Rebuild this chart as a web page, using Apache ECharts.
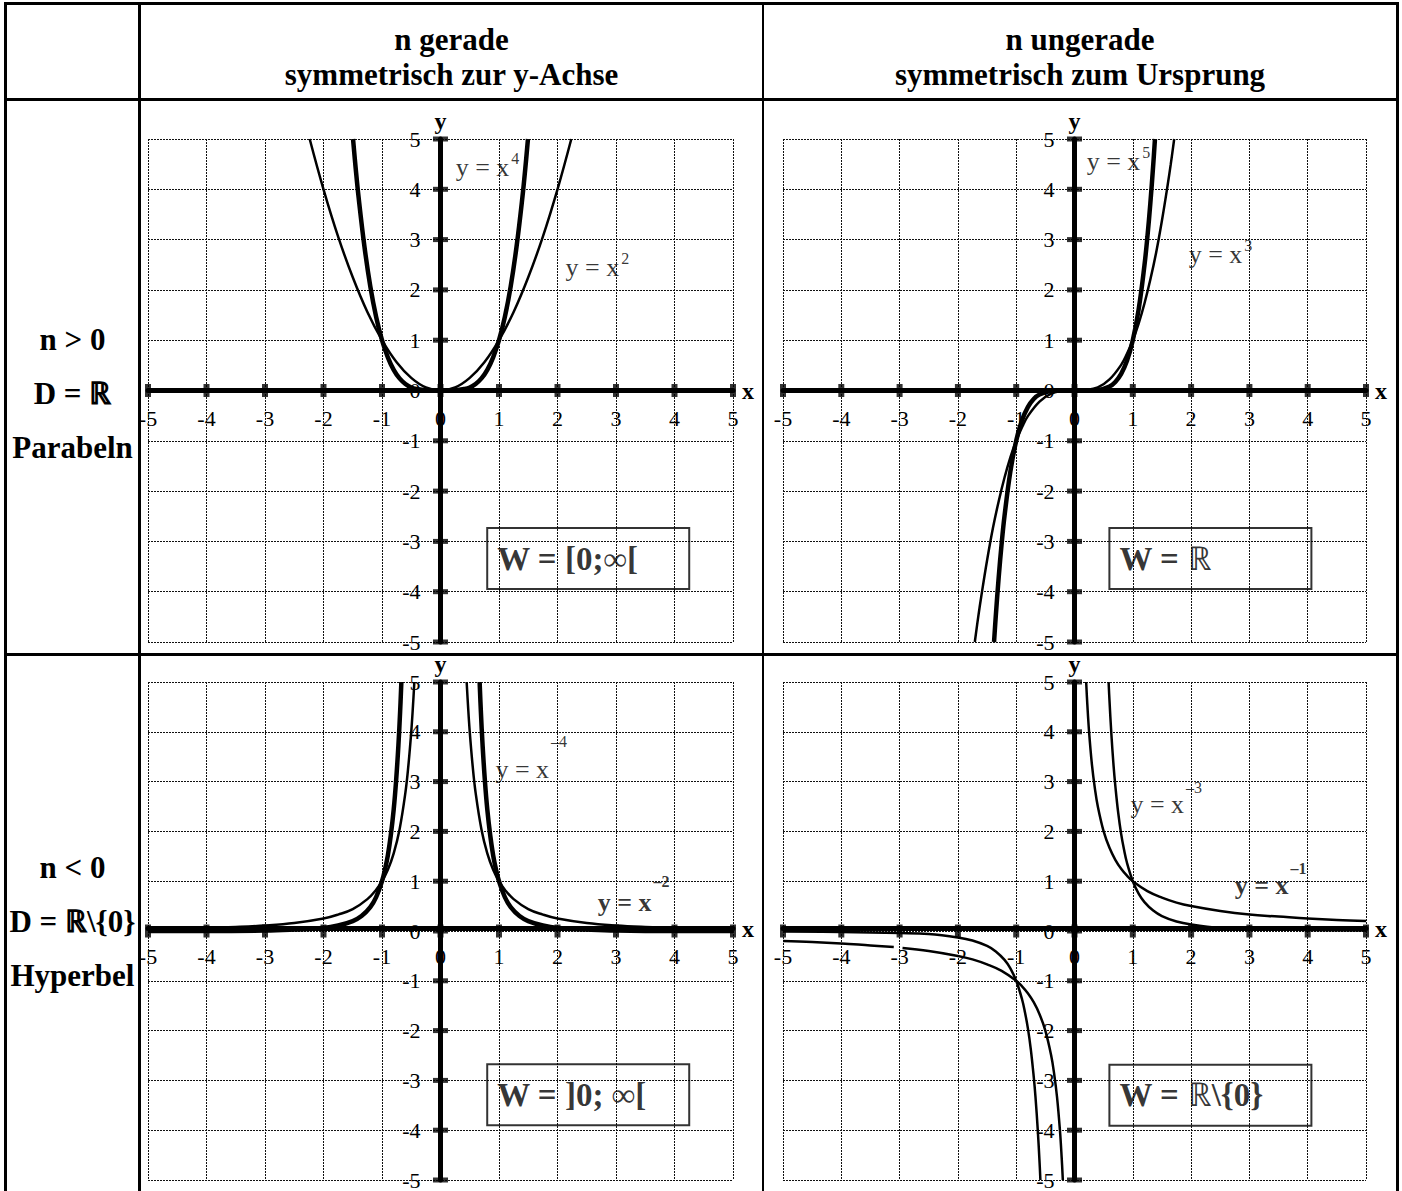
<!DOCTYPE html>
<html>
<head>
<meta charset="utf-8">
<title>Potenzfunktionen</title>
<script src="https://cdn.jsdelivr.net/npm/echarts@6/dist/echarts.min.js"></script>
<style>
  html, body { margin: 0; padding: 0; background: #fff; }
  #page { position: relative; width: 1402px; height: 1191px; overflow: hidden;
          font-family: "Liberation Serif", "Times New Roman", serif; color: #000; }
  .ln { position: absolute; background: #000; }
  .hd { position: absolute; font-weight: bold; font-size: 31px; text-align: center; white-space: nowrap; }
  #chart { position: absolute; left: 0; top: 0; width: 1402px; height: 1191px; }
</style>
</head>
<body>
<div id="page">
  <!-- Tabellenrahmen -->
  <div class="ln" style="left:4px;top:2px;width:1395px;height:3px;"></div>
  <div class="ln" style="left:4px;top:2px;width:3px;height:1189px;"></div>
  <div class="ln" style="left:1396px;top:2px;width:3px;height:1189px;"></div>
  <div class="ln" style="left:4px;top:98px;width:1395px;height:3px;"></div>
  <div class="ln" style="left:4px;top:653px;width:1395px;height:3px;"></div>
  <div class="ln" style="left:138px;top:2px;width:3px;height:1189px;"></div>
  <div class="ln" style="left:762px;top:2px;width:2px;height:1189px;"></div>

  <div class="hd" style="left:141px;top:22px;width:621px;line-height:35px;">n gerade<br>symmetrisch zur y-Achse</div>
  <div class="hd" style="left:764px;top:22px;width:632px;line-height:35px;">n ungerade<br>symmetrisch zum Ursprung</div>

  <div class="hd" style="left:7px;top:313px;width:131px;line-height:54px;">n &gt; 0<br>D = &#8477;<br>Parabeln</div>
  <div class="hd" style="left:7px;top:841px;width:131px;line-height:54px;">n &lt; 0<br>D = &#8477;\{0}<br>Hyperbel</div>

  <div id="chart"></div>
</div>
<script>
// Achsen
var xTicks = [-5, -4, -3, -2, -1, 0, 1, 2, 3, 4, 5];
var yTicks = [-5, -4, -3, -2, -1, 0, 1, 2, 3, 4, 5];

// y = x^2
var xsSquare = [-2.236, -2, -1.75, -1.5, -1.25, -1, -0.75, -0.5, -0.25, 0, 0.25, 0.5, 0.75, 1, 1.25, 1.5, 1.75, 2, 2.236];
var ysSquare = [5, 4, 3.06, 2.25, 1.56, 1, 0.56, 0.25, 0.06, 0, 0.06, 0.25, 0.56, 1, 1.56, 2.25, 3.06, 4, 5];
// y = x^4
var xsQuart = [-1.495, -1.45, -1.4, -1.3, -1.2, -1.1, -1, -0.9, -0.8, -0.7, -0.6, -0.5, -0.4, -0.2, 0, 0.2, 0.4, 0.5, 0.6, 0.7, 0.8, 0.9, 1, 1.1, 1.2, 1.3, 1.4, 1.45, 1.495];
var ysQuart = [5, 4.42, 3.84, 2.86, 2.07, 1.46, 1, 0.66, 0.41, 0.24, 0.13, 0.06, 0.03, 0, 0, 0, 0.03, 0.06, 0.13, 0.24, 0.41, 0.66, 1, 1.46, 2.07, 2.86, 3.84, 4.42, 5];
// y = x^3
var xsCube = [-1.71, -1.65, -1.6, -1.5, -1.4, -1.3, -1.2, -1.1, -1, -0.9, -0.8, -0.6, -0.4, -0.2, 0, 0.2, 0.4, 0.6, 0.8, 0.9, 1, 1.1, 1.2, 1.3, 1.4, 1.5, 1.6, 1.65, 1.71];
var ysCube = [-5, -4.49, -4.1, -3.38, -2.74, -2.2, -1.73, -1.33, -1, -0.73, -0.51, -0.22, -0.06, -0.01, 0, 0.01, 0.06, 0.22, 0.51, 0.73, 1, 1.33, 1.73, 2.2, 2.74, 3.38, 4.1, 4.49, 5];
// y = x^5
var xsFifth = [-1.38, -1.35, -1.3, -1.25, -1.2, -1.1, -1, -0.9, -0.8, -0.7, -0.6, -0.4, -0.2, 0, 0.2, 0.4, 0.6, 0.7, 0.8, 0.9, 1, 1.1, 1.2, 1.25, 1.3, 1.35, 1.38];
var ysFifth = [-5, -4.48, -3.71, -3.05, -2.49, -1.61, -1, -0.59, -0.33, -0.17, -0.08, -0.01, 0, 0, 0, 0.01, 0.08, 0.17, 0.33, 0.59, 1, 1.61, 2.49, 3.05, 3.71, 4.48, 5];
// y = x^-2 (null = Polstelle)
var xsInv2 = [-5, -4.5, -4, -3.5, -3, -2.5, -2, -1.75, -1.5, -1.25, -1.1, -1, -0.9, -0.8, -0.7, -0.6, -0.55, -0.5, -0.47, -0.447, null,
              0.447, 0.47, 0.5, 0.55, 0.6, 0.7, 0.8, 0.9, 1, 1.1, 1.25, 1.5, 1.75, 2, 2.5, 3, 3.5, 4, 4.5, 5];
var ysInv2 = [0.04, 0.05, 0.06, 0.08, 0.11, 0.16, 0.25, 0.33, 0.44, 0.64, 0.83, 1, 1.23, 1.56, 2.04, 2.78, 3.31, 4, 4.53, 5, null,
              5, 4.53, 4, 3.31, 2.78, 2.04, 1.56, 1.23, 1, 0.83, 0.64, 0.44, 0.33, 0.25, 0.16, 0.11, 0.08, 0.06, 0.05, 0.04];
// y = x^-4
var xsInv4 = [-5, -4, -3, -2.5, -2, -1.75, -1.5, -1.35, -1.2, -1.1, -1, -0.95, -0.9, -0.85, -0.8, -0.76, -0.72, -0.69, -0.669, null,
              0.669, 0.69, 0.72, 0.76, 0.8, 0.85, 0.9, 0.95, 1, 1.1, 1.2, 1.35, 1.5, 1.75, 2, 2.5, 3, 4, 5];
var ysInv4 = [0, 0, 0.01, 0.03, 0.06, 0.11, 0.2, 0.3, 0.48, 0.68, 1, 1.23, 1.52, 1.92, 2.44, 3.0, 3.72, 4.41, 5, null,
              5, 4.41, 3.72, 3.0, 2.44, 1.92, 1.52, 1.23, 1, 0.68, 0.48, 0.3, 0.2, 0.11, 0.06, 0.03, 0.01, 0, 0];
// y = x^-1
var xsInv1 = [-5, -4.5, -4, -3.5, -3.1, null, -2.95, -2.5, -2, -1.75, -1.5, -1.25, -1, -0.9, -0.8, -0.7, -0.6, -0.5, -0.4, -0.35, -0.3, -0.25, -0.22, -0.2, null,
              0.2, 0.22, 0.25, 0.3, 0.35, 0.4, 0.5, 0.6, 0.7, 0.8, 0.9, 1, 1.25, 1.5, 1.75, 2, 2.5, 3, 3.5, 4, 4.5, 5];
var ysInv1 = [-0.2, -0.22, -0.25, -0.29, -0.32, null, -0.34, -0.4, -0.5, -0.57, -0.67, -0.8, -1, -1.11, -1.25, -1.43, -1.67, -2, -2.5, -2.86, -3.33, -4, -4.55, -5, null,
              5, 4.55, 4, 3.33, 2.86, 2.5, 2, 1.67, 1.43, 1.25, 1.11, 1, 0.8, 0.67, 0.57, 0.5, 0.4, 0.33, 0.29, 0.25, 0.22, 0.2];
// y = x^-3
var xsInv3 = [-5, -4, -3, -2.5, -2, -1.75, -1.5, -1.35, -1.2, -1.1, -1, -0.9, -0.85, -0.8, -0.75, -0.7, -0.67, -0.63, -0.6, -0.585, null,
              0.585, 0.6, 0.63, 0.67, 0.7, 0.75, 0.8, 0.85, 0.9, 1, 1.1, 1.2, 1.35, 1.5, 1.75, 2, 2.5, 3, 4, 5];
var ysInv3 = [-0.01, -0.02, -0.04, -0.06, -0.13, -0.19, -0.3, -0.41, -0.58, -0.75, -1, -1.37, -1.63, -1.95, -2.37, -2.92, -3.32, -4.0, -4.63, -5, null,
              5, 4.63, 4.0, 3.32, 2.92, 2.37, 1.95, 1.63, 1.37, 1, 0.75, 0.58, 0.41, 0.3, 0.19, 0.13, 0.06, 0.04, 0.02, 0.01];

var serif = "'Liberation Serif', 'Times New Roman', serif";

// 0 = oben links, 1 = oben rechts, 2 = unten links, 3 = unten rechts
var grids = [
  { left: 148, top: 139, width: 585, height: 503 },
  { left: 783, top: 139, width: 583, height: 503 },
  { left: 148, top: 682, width: 585, height: 503 },
  { left: 783, top: 682, width: 583, height: 503 }
];

var curves = [
  { g: 0, xs: xsSquare, ys: ysSquare, w: 2.5 },
  { g: 0, xs: xsQuart, ys: ysQuart, w: 4.5 },
  { g: 1, xs: xsCube, ys: ysCube, w: 2.5 },
  { g: 1, xs: xsFifth, ys: ysFifth, w: 4.5 },
  { g: 2, xs: xsInv2, ys: ysInv2, w: 2.5 },
  { g: 2, xs: xsInv4, ys: ysInv4, w: 4.5 },
  { g: 3, xs: xsInv1, ys: ysInv1, w: 2.5 },
  { g: 3, xs: xsInv3, ys: ysInv3, w: 2.5 }
];

// Beschriftungen der Kurven
var curveLabels = [
  { g: 0, at: [0.25, 4.44], text: '{m|y = x}{s|4}', bold: false, lh: 34 },
  { g: 0, at: [2.13, 2.44], text: '{m|y = x}{s|2}', bold: false, lh: 34 },
  { g: 1, at: [0.2, 4.55], text: '{m|y = x}{s|5}', bold: false, lh: 34 },
  { g: 1, at: [1.95, 2.7], text: '{m|y = x}{s|3}', bold: false, lh: 34 },
  { g: 2, at: [0.93, 3.25], text: '{m|y = x}{s|–4}', bold: false, lh: 72 },
  { g: 2, at: [2.68, 0.57], text: '{m|y = x}{s|–2}', bold: true, lh: 58 },
  { g: 3, at: [0.95, 2.55], text: '{m|y = x}{s|–3}', bold: false, lh: 50 },
  { g: 3, at: [2.74, 0.92], text: '{m|y = x}{s|–1}', bold: true, lh: 50 }
];

// Wertebereiche
var rangeBoxes = [
  { g: 0, at: [0.79, -3.34], text: 'W = [0;∞[' },
  { g: 1, at: [0.59, -3.34], text: 'W = {r|ℝ}' },
  { g: 2, at: [0.79, -3.29], text: 'W = ]0; ∞[' },
  { g: 3, at: [0.59, -3.30], text: 'W = {r|ℝ}\\{0}' }
];

function pairs(xs, ys) {
  return xs.map(function (x, i) {
    return (x === null || ys[i] === null) ? ['-', '-'] : [x, ys[i]];
  });
}

var chart = echarts.init(document.getElementById('chart'), null, { renderer: 'svg' });

var xAxes = [], yAxes = [], series = [];
grids.forEach(function (g, i) {
  // Achsen durch den Ursprung: um die halbe Gitterhöhe bzw. -breite nach innen versetzt
  xAxes.push({
    gridIndex: i, type: 'value', min: -5, max: 5, interval: 1,
    position: 'bottom', offset: -g.height / 2,
    name: 'x', nameLocation: 'end', nameGap: 9,
    nameTextStyle: { fontFamily: serif, fontWeight: 'bold', fontSize: 24, color: '#000' },
    axisLine: { onZero: false, lineStyle: { color: '#000', width: 5 } },
    axisTick: { show: false },
    axisLabel: { fontFamily: serif, fontSize: 22, color: '#000', margin: 17 },
    splitLine: { show: true, lineStyle: { color: '#111', width: 1, type: [2, 1] } }
  });
  yAxes.push({
    gridIndex: i, type: 'value', min: -5, max: 5, interval: 1,
    position: 'left', offset: -g.width / 2,
    name: 'y', nameLocation: 'end', nameGap: 6,
    nameTextStyle: { fontFamily: serif, fontWeight: 'bold', fontSize: 24, color: '#000' },
    axisLine: { onZero: false, lineStyle: { color: '#000', width: 5 } },
    axisTick: { show: false },
    axisLabel: { fontFamily: serif, fontSize: 22, color: '#000', margin: 20 },
    splitLine: { show: true, lineStyle: { color: '#111', width: 1, type: [2, 1] } }
  });
  // Teilstriche als kleine Balken
  series.push({
    type: 'scatter', xAxisIndex: i, yAxisIndex: i, silent: true, z: 6,
    symbol: 'rect', symbolSize: [6, 13], itemStyle: { color: '#000' },
    data: xTicks.map(function (t) { return [t, 0]; })
  });
  series.push({
    type: 'scatter', xAxisIndex: i, yAxisIndex: i, silent: true, z: 6,
    symbol: 'rect', symbolSize: [15, 5], itemStyle: { color: '#000' },
    data: yTicks.map(function (t) { return [0, t]; })
  });
});

curves.forEach(function (c) {
  series.push({
    type: 'line', xAxisIndex: c.g, yAxisIndex: c.g, silent: true, z: 4,
    showSymbol: false, smooth: 0.4,
    lineStyle: { color: '#000', width: c.w },
    data: pairs(c.xs, c.ys)
  });
});

curveLabels.forEach(function (l) {
  var fw = l.bold ? 'bold' : 'normal';
  series.push({
    type: 'scatter', xAxisIndex: l.g, yAxisIndex: l.g, silent: true, z: 7,
    symbolSize: 1, itemStyle: { color: 'rgba(0,0,0,0)' },
    data: [l.at],
    label: {
      show: true, position: 'right', distance: 0,
      formatter: function () { return l.text; },
      rich: {
        m: { fontFamily: serif, fontSize: 26, fontWeight: fw, color: '#000', lineHeight: l.lh },
        s: { fontFamily: serif, fontSize: 16, fontWeight: fw, color: '#000', lineHeight: 18, verticalAlign: 'top', padding: [0, 0, 0, 2] }
      }
    }
  });
});

rangeBoxes.forEach(function (b) {
  series.push({
    type: 'scatter', xAxisIndex: b.g, yAxisIndex: b.g, silent: true, z: 7,
    symbolSize: 1, itemStyle: { color: 'rgba(0,0,0,0)' },
    data: [b.at],
    label: {
      show: true, position: 'right', distance: 0,
      formatter: function () { return b.text; },
      fontFamily: serif, fontSize: 33, fontWeight: 'bold', color: '#000', lineHeight: 37,
      width: 190, padding: [12, 2, 12, 10],
      borderColor: '#000', borderWidth: 2,
      rich: {
        r: { fontFamily: serif, fontSize: 33, fontWeight: 'normal', color: '#000', lineHeight: 37 }
      }
    }
  });
});

chart.setOption({
  animation: false,
  backgroundColor: 'transparent',
  textStyle: { fontFamily: serif },
  grid: grids,
  xAxis: xAxes,
  yAxis: yAxes,
  series: series
});
</script>
</body>
</html>
